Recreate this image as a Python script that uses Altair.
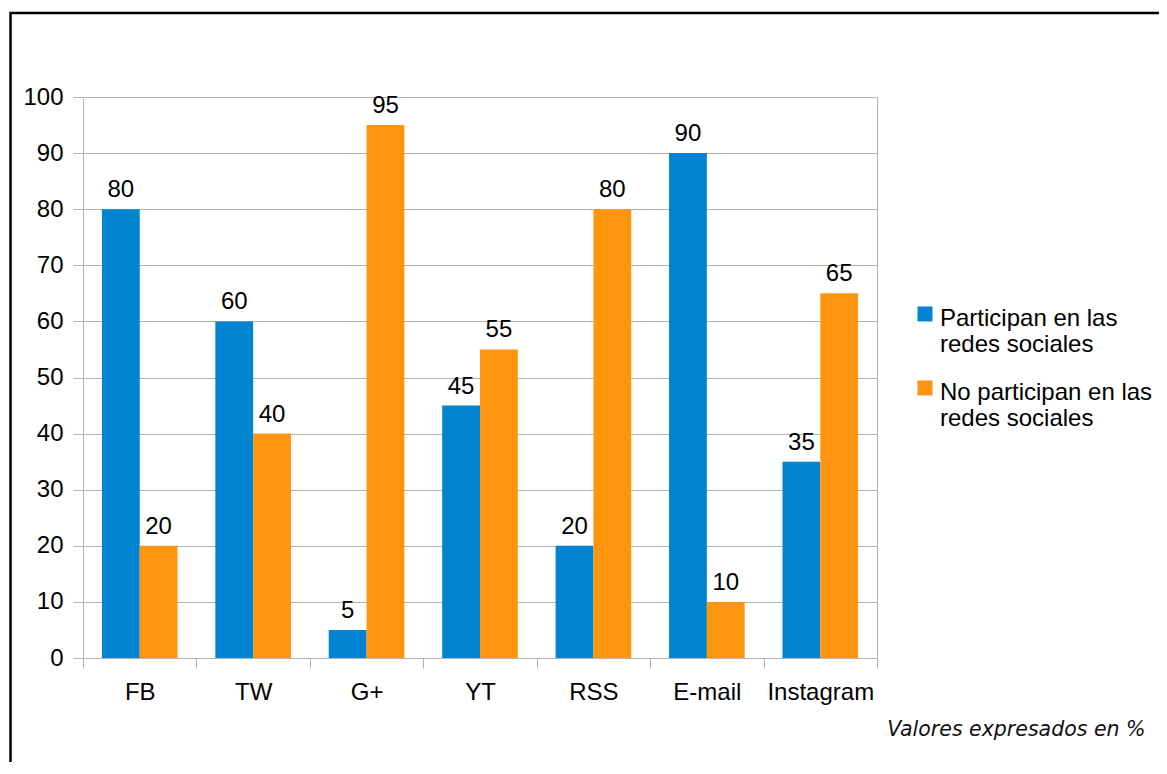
import altair as alt
import pandas as pd

categorias = ["FB", "TW", "G+", "YT", "RSS", "E-mail", "Instagram"]
series = ["Participan en las redes sociales", "No participan en las redes sociales"]
participan = [80, 60, 5, 45, 20, 90, 35]
no_participan = [20, 40, 95, 55, 80, 10, 65]
colores = ["#0084d1", "#ff950e"]
y_ticks = [0, 10, 20, 30, 40, 50, 60, 70, 80, 90, 100]
nota = "Valores expresados en %"

rows = []
for c, a, b in zip(categorias, participan, no_participan):
    rows.append({"cat": c, "serie": series[0], "valor": a})
    rows.append({"cat": c, "serie": series[1], "valor": b})
df = pd.DataFrame(rows)

W, H = 794, 561

x_enc = alt.X(
    "cat:N",
    sort=categorias,
    scale=alt.Scale(paddingInner=0, paddingOuter=0),
    axis=alt.Axis(
        title=nota,
        labelAngle=0,
        tickBand="extent",
        tickSize=10,
        labelPadding=12,
        labelFontSize=24,
        labelColor="#000000",
        domainColor="#b3b3b3",
        tickColor="#b3b3b3",
        grid=False,
        titleFont="DejaVu Sans",
        titleFontStyle="italic",
        titleFontWeight="normal",
        titleFontSize=20.5,
        titleColor="#111111",
        titleAlign="right",
        titleBaseline="alphabetic",
        titleX=1062,
        titleY=77,
    ),
)
xoff = alt.XOffset("serie:N", sort=series, scale=alt.Scale(paddingOuter=0.5, paddingInner=0))
y_enc = alt.Y(
    "valor:Q",
    scale=alt.Scale(domain=[0, 100], nice=False),
    axis=alt.Axis(
        title=None,
        values=y_ticks,
        tickSize=10,
        labelPadding=10,
        labelFontSize=24,
        labelColor="#000000",
        domainColor="#b3b3b3",
        tickColor="#b3b3b3",
        gridColor="#b3b3b3",
    ),
)

bars = alt.Chart(df).mark_bar().encode(
    x=x_enc,
    xOffset=xoff,
    y=y_enc,
    color=alt.Color(
        "serie:N",
        sort=series,
        scale=alt.Scale(domain=series, range=colores),
        legend=alt.Legend(
            title=None,
            orient="none",
            legendX=830,
            legendY=198,
            symbolType="M-1,-0.07H1V1.93H-1Z",
            symbolSize=225,
            symbolStrokeWidth=0,
            labelFontSize=24,
            labelColor="#000000",
            labelOffset=3,
            labelBaseline="top",
            labelLimit=400,
            rowPadding=12,
            labelExpr="split(replace(datum.label, ' las ', ' las|'), '|')",
        ),
    ),
)

labels = alt.Chart(df).mark_text(
    baseline="alphabetic", dy=-12, fontSize=24, color="#000000"
).encode(
    x=alt.X("cat:N", sort=categorias),
    xOffset=alt.XOffset("serie:N", sort=series),
    y="valor:Q",
    text="valor:Q",
)

frame = alt.Chart(alt.Data(values=[{}])).mark_rect(
    filled=False, stroke="#000000", strokeWidth=2.5
).encode(
    x=alt.value(-72.5), x2=alt.value(3000), y=alt.value(-84), y2=alt.value(3000)
)

chart = alt.layer(bars, labels, frame).properties(
    width=W,
    height=H,
    autosize=alt.AutoSizeParams(type="none"),
    padding={"left": 75, "top": 89, "right": 282, "bottom": 104},
).configure(
    font="Liberation Sans",
).configure_view(
    stroke="#b3b3b3", strokeWidth=1
)

chart.save("out.html", embed_options={"renderer": "svg", "actions": False})
